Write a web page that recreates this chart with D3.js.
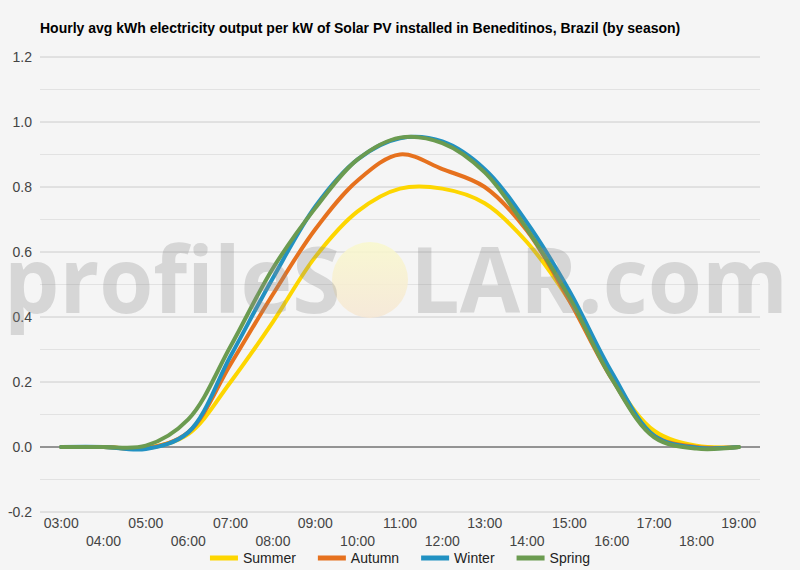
<!DOCTYPE html>
<html>
<head>
<meta charset="utf-8">
<script src="https://cdn.jsdelivr.net/npm/d3@7"></script>
<style>
  body { margin: 0; background: #f5f5f5; }
  svg { display: block; font-family: Arial, "Liberation Sans", sans-serif; }
</style>
</head>
<body>
<div class="chart_wrapper"></div>
<script>
const hours = ["03:00","04:00","05:00","06:00","07:00","08:00","09:00","10:00","11:00",
  "12:00","13:00","14:00","15:00","16:00","17:00","18:00","19:00"]

const seasons = ["Summer", "Autumn", "Winter", "Spring"]
const seasonColors = ["#fdd600", "#e6711e", "#2191c2", "#6b9b50"]

const summer = [0, 0, -0.004, 0.04, 0.2, 0.385, 0.585, 0.725, 0.795, 0.795, 0.75, 0.63, 0.45, 0.215, 0.05, 0.004, 0]
const autumn = [0, 0, -0.004, 0.045, 0.255, 0.47, 0.67, 0.82, 0.90, 0.855, 0.80, 0.665, 0.45, 0.21, 0.035, 0, 0]
const winter = [0, 0, -0.006, 0.045, 0.28, 0.52, 0.74, 0.885, 0.95, 0.94, 0.855, 0.69, 0.48, 0.23, 0.035, -0.002, 0]
const spring = [0, 0, 0.004, 0.085, 0.31, 0.55, 0.735, 0.885, 0.952, 0.935, 0.845, 0.67, 0.46, 0.21, 0.03, -0.005, 0]

const yTicks = [-0.2, 0, 0.2, 0.4, 0.6, 0.8, 1.0, 1.2]
const yMinor = [-0.1, 0.1, 0.3, 0.5, 0.7, 0.9, 1.1]

const title = "Hourly avg kWh electricity output per kW of Solar PV installed in Beneditinos, Brazil (by season)"

const seriesValues = [summer, autumn, winter, spring]

let dimensions = {
  width: 800,
  height: 570,
  margin: { top: 57, right: 40, bottom: 58, left: 40 },
}
dimensions.boundedWidth = dimensions.width - dimensions.margin.left - dimensions.margin.right
dimensions.boundedHeight = dimensions.height - dimensions.margin.top - dimensions.margin.bottom

const wrapper = d3.select(".chart_wrapper")
  .append("svg")
  .attr("width", dimensions.width)
  .attr("height", dimensions.height)

wrapper.append("rect")
  .attr("width", dimensions.width)
  .attr("height", dimensions.height)
  .attr("fill", "#f5f5f5")

wrapper.append("text")
  .attr("x", 40)
  .attr("y", 33)
  .attr("font-size", 14)
  .attr("font-weight", "bold")
  .attr("fill", "#000")
  .text(title)

const bounds = wrapper.append("g")
  .attr("transform", `translate(${dimensions.margin.left},${dimensions.margin.top})`)

const xScale = d3.scalePoint()
  .domain(hours)
  .range([0, dimensions.boundedWidth])
  .padding(0.5)

const yScale = d3.scaleLinear()
  .domain([-0.2, 1.2])
  .range([dimensions.boundedHeight, 0])

// gridlines
bounds.selectAll(".minor")
  .data(yMinor)
  .enter().append("line")
  .attr("x1", 0).attr("x2", dimensions.boundedWidth)
  .attr("y1", d => yScale(d)).attr("y2", d => yScale(d))
  .attr("stroke", "#e2e2e2")

bounds.selectAll(".major")
  .data(yTicks.filter(d => d !== 0))
  .enter().append("line")
  .attr("x1", 0).attr("x2", dimensions.boundedWidth)
  .attr("y1", d => yScale(d)).attr("y2", d => yScale(d))
  .attr("stroke", "#cccccc")

bounds.append("line")
  .attr("x1", 0).attr("x2", dimensions.boundedWidth)
  .attr("y1", yScale(0)).attr("y2", yScale(0))
  .attr("stroke", "#333")

// y labels (plain hyphen for negatives)
const yAxis = d3.axisLeft(yScale)
  .tickValues(yTicks)
  .tickFormat(d => d.toFixed(1))
  .tickSize(0)
  .tickPadding(8)

bounds.append("g")
  .call(yAxis)
  .call(g => g.select(".domain").remove())
  .selectAll("text")
  .attr("font-size", 14)
  .attr("font-family", "Arial, 'Liberation Sans', sans-serif")
  .attr("fill", "#444")

// x labels, alternating rows
bounds.append("g")
  .selectAll("text")
  .data(hours)
  .enter().append("text")
  .attr("x", d => xScale(d))
  .attr("y", (d, i) => dimensions.boundedHeight + (i % 2 === 0 ? 16 : 34))
  .attr("text-anchor", "middle")
  .attr("font-size", 14)
  .attr("fill", "#444")
  .text(d => d)

// lines
const line = d3.line()
  .x((d, i) => xScale(hours[i]))
  .y(d => yScale(d))
  .curve(d3.curveCatmullRom.alpha(0.5))

bounds.selectAll(".series")
  .data(seriesValues)
  .enter().append("path")
  .attr("d", d => line(d))
  .attr("fill", "none")
  .attr("stroke", (d, i) => seasonColors[i])
  .attr("stroke-width", 4)
  .attr("stroke-linejoin", "round")
  .attr("stroke-linecap", "round")

// watermark
const defs = wrapper.append("defs")
const grad = defs.append("linearGradient")
  .attr("id", "sun")
  .attr("x1", 0).attr("y1", 0).attr("x2", 0).attr("y2", 1)
grad.append("stop").attr("offset", "0%").attr("stop-color", "#f9f8cc")
grad.append("stop").attr("offset", "100%").attr("stop-color", "#f6e7d4")

wrapper.append("ellipse")
  .attr("cx", 370).attr("cy", 280)
  .attr("rx", 38).attr("ry", 38)
  .attr("fill", "url(#sun)")
  .attr("opacity", 0.85)

const mark = wrapper.append("text")
  .attr("x", 4)
  .attr("y", 313)
  .attr("font-family", "'Open Sans', sans-serif")
  .attr("font-weight", 700)
  .attr("font-size", 92)
  .attr("fill", "#8c8c8c")
  .attr("opacity", 0.29)
  .attr("textLength", 784)
  .attr("lengthAdjust", "spacingAndGlyphs")
mark.append("tspan").text("profileS")
mark.append("tspan").attr("fill-opacity", 0).text("O")
mark.append("tspan").text("LAR.com")

// legend
const legend = wrapper.append("g")
let lx = 0
seasons.forEach((s, i) => {
  const g = legend.append("g").attr("transform", `translate(${lx},0)`)
  g.append("rect")
    .attr("x", 0).attr("y", -2.5)
    .attr("width", 28).attr("height", 5)
    .attr("fill", seasonColors[i])
  const t = g.append("text")
    .attr("x", 33).attr("y", 5)
    .attr("font-size", 14)
    .attr("fill", "#222")
    .text(s)
  lx += 33 + t.node().getComputedTextLength() + 22
})
const legendWidth = lx - 22
legend.attr("transform", `translate(${400 - legendWidth / 2},558)`)
</script>
</body>
</html>
